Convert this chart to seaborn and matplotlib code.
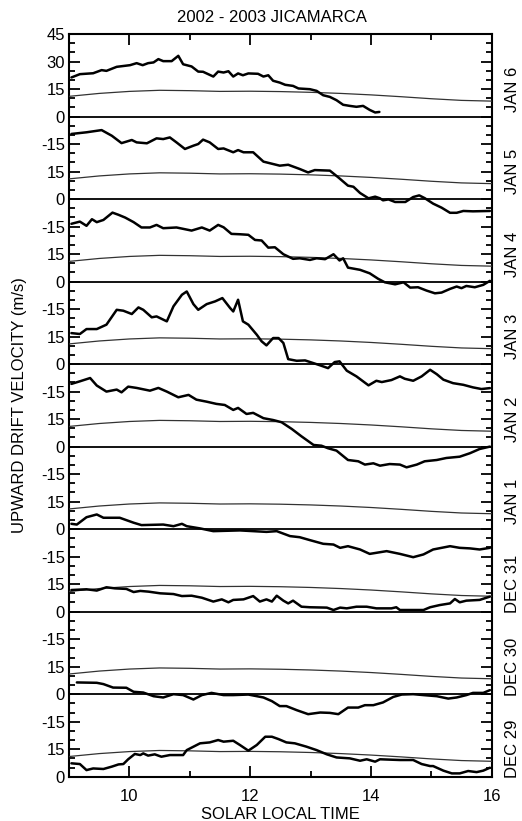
import numpy as np
import pandas as pd
import matplotlib
matplotlib.use("Agg")
import matplotlib.pyplot as plt
import matplotlib.transforms as mtransforms
from matplotlib.ticker import MultipleLocator, FixedLocator
import seaborn as sns

# Day labels, top to bottom
days = ["JAN 6", "JAN 5", "JAN 4", "JAN 3", "JAN 2", "JAN 1", "DEC 31", "DEC 30", "DEC 29"]

# Measured upward drifts (solar local time in hours, velocity in m/s)
jan6_t = [9.04, 9.18, 9.40, 9.54, 9.62, 9.79, 10.01, 10.12, 10.22, 10.31, 10.40, 10.48, 10.56, 10.70,
          10.81, 10.89, 11.03, 11.14, 11.22, 11.39, 11.47, 11.56, 11.64, 11.72, 11.80, 11.88, 11.97,
          12.13, 12.22, 12.30, 12.38, 12.49, 12.58, 12.71, 12.80, 12.99, 13.10, 13.21, 13.32, 13.43,
          13.54, 13.65, 13.76, 13.87, 13.98, 14.07, 14.14]
jan6_v = [21.3, 23.1, 23.6, 25.3, 24.9, 27.1, 28.0, 29.1, 28.0, 29.1, 29.5, 31.3, 30.2, 30.2,
          33.1, 28.5, 27.3, 24.5, 24.4, 21.8, 24.5, 24.0, 24.7, 21.8, 23.5, 22.5, 23.5,
          23.3, 21.8, 22.5, 19.5, 18.5, 17.3, 16.7, 15.3, 14.9, 14.0, 11.6, 10.7, 8.9,
          6.4, 5.8, 5.3, 5.8, 3.6, 2.2, 2.5]

jan5_t = [9.04, 9.29, 9.54, 9.71, 9.87, 10.04, 10.12, 10.29, 10.45, 10.56, 10.67, 10.78, 10.92,
          11.06, 11.14, 11.22, 11.33, 11.47, 11.56, 11.72, 11.80, 11.89, 12.05, 12.22, 12.38,
          12.49, 12.63, 12.82, 12.96, 13.07, 13.32, 13.46, 13.62, 13.71, 13.82, 13.96, 14.07,
          14.15, 14.20, 14.29, 14.40, 14.57, 14.70, 14.80, 14.89, 15.03, 15.17, 15.31, 15.42,
          15.53, 15.69, 15.97]
jan5_v = [35.5, 36.4, 37.6, 34.5, 30.5, 32.2, 30.9, 30.4, 33.1, 32.7, 33.6, 30.9, 27.3,
          29.1, 30.0, 32.4, 30.9, 27.3, 27.6, 25.5, 26.7, 25.5, 25.5, 20.4, 19.1,
          18.2, 18.7, 16.4, 14.5, 15.8, 15.5, 11.8, 7.3, 6.7, 3.3, 0.4, 1.3,
          0.4, -0.7, -0.2, -1.6, -1.6, 1.1, 2.0, 0.5, -2.5, -4.7, -7.5, -7.5,
          -6.5, -6.7, -6.5]

jan4_t = [9.04, 9.18, 9.29, 9.38, 9.46, 9.57, 9.72, 9.82, 9.93, 10.07, 10.20, 10.34, 10.45, 10.56,
          10.78, 11.03, 11.20, 11.33, 11.47, 11.56, 11.69, 11.83, 11.97, 12.08, 12.19, 12.30,
          12.41, 12.55, 12.71, 12.82, 12.99, 13.10, 13.24, 13.38, 13.48, 13.54, 13.62, 13.82,
          13.98, 14.12, 14.23, 14.40, 14.54, 14.65, 14.78, 14.92, 15.06, 15.17, 15.31, 15.42,
          15.50, 15.58, 15.72, 15.86, 15.97]
jan4_v = [31.5, 32.7, 30.4, 34.0, 32.4, 33.6, 37.6, 36.4, 34.9, 32.4, 29.5, 29.5, 30.9, 29.1,
          29.5, 27.8, 29.5, 27.8, 30.9, 29.6, 26.0, 25.8, 25.5, 22.7, 22.4, 18.5,
          18.7, 14.9, 12.4, 12.7, 11.8, 12.7, 12.2, 14.9, 11.5, 12.7, 7.6, 6.4,
          4.5, 1.5, -0.4, -1.5, -0.4, -3.3, -3.1, -4.9, -6.4, -6.0, -4.0, -2.7,
          -3.6, -2.4, -3.1, -1.8, 0.4]

jan3_t = [9.04, 9.18, 9.29, 9.46, 9.62, 9.79, 9.90, 10.04, 10.15, 10.23, 10.37, 10.45, 10.62,
          10.73, 10.87, 10.95, 11.06, 11.14, 11.28, 11.42, 11.54, 11.67, 11.72, 11.80, 11.88,
          11.97, 12.11, 12.19, 12.27, 12.38, 12.47, 12.55, 12.63, 12.77, 12.91, 13.05, 13.16,
          13.29, 13.40, 13.48, 13.60, 13.76, 13.96, 14.09, 14.18, 14.34, 14.48, 14.56, 14.70,
          14.84, 14.98, 15.09, 15.20, 15.36, 15.53, 15.69, 15.83, 15.97]
jan3_v = [16.9, 16.4, 19.1, 19.1, 21.5, 29.6, 29.1, 27.3, 30.9, 29.6, 25.5, 26.0, 23.3,
          31.5, 37.8, 39.6, 32.7, 29.6, 32.7, 34.2, 36.0, 30.5, 28.7, 35.1, 23.3,
          21.5, 16.0, 12.4, 10.2, 14.2, 14.2, 11.5, 2.7, 1.8, 2.0, 0.5, -0.7,
          -2.2, 1.1, 1.5, -3.6, -6.7, -11.6, -9.1, -9.8, -8.7, -6.7, -8.0, -9.1,
          -6.7, -3.1, -5.5, -8.5, -10.4, -11.3, -12.7, -13.6, -13.1]

jan2_t = [9.04, 9.18, 9.35, 9.46, 9.62, 9.79, 9.87, 9.98, 10.12, 10.34, 10.48, 10.62, 10.81,
          10.98, 11.11, 11.28, 11.44, 11.58, 11.72, 11.80, 11.94, 12.05, 12.22, 12.38, 12.52,
          12.69, 12.85, 13.05, 13.18, 13.29, 13.43, 13.62, 13.79, 13.90, 14.04, 14.15, 14.31,
          14.48, 14.59, 14.76, 14.89, 15.09, 15.25, 15.47, 15.64, 15.80, 15.97]
jan2_v = [34.2, 35.6, 37.4, 33.3, 30.0, 31.1, 29.6, 32.7, 32.0, 30.5, 32.0, 30.0, 26.9,
          28.2, 25.6, 24.5, 23.3, 22.7, 20.0, 21.1, 17.8, 18.4, 15.5, 14.5, 13.3,
          9.6, 5.6, 0.9, 0.5, -0.9, -2.2, -7.3, -8.0, -9.8, -9.1, -10.4, -9.5,
          -9.8, -11.3, -9.8, -8.0, -7.3, -6.2, -5.5, -3.6, -1.3, 0.0]

jan1_t = [9.04, 9.13, 9.29, 9.46, 9.57, 9.84, 10.07, 10.20, 10.56, 10.73, 10.87, 10.95, 11.17,
          11.39, 11.83, 12.27, 12.44, 12.66, 12.82, 12.99, 13.21, 13.38, 13.49, 13.62, 13.82,
          13.98, 14.26, 14.48, 14.70, 14.87, 15.03, 15.31, 15.47, 15.64, 15.80, 15.97]
jan1_v = [2.9, 2.5, 6.5, 8.0, 6.2, 6.2, 3.5, 2.2, 2.5, 1.6, 2.9, 1.6, 0.4,
          -1.1, -0.7, -1.5, -1.1, -3.8, -4.4, -6.0, -8.0, -8.4, -10.2, -9.3, -11.1,
          -13.5, -12.0, -13.5, -15.3, -13.8, -11.1, -9.3, -10.2, -10.5, -11.1, -10.2]

dec31_t = [9.04, 9.29, 9.46, 9.62, 9.76, 9.95, 10.07, 10.18, 10.32, 10.51, 10.73, 10.87, 11.03,
           11.20, 11.39, 11.53, 11.64, 11.72, 11.89, 12.05, 12.16, 12.27, 12.36, 12.44, 12.55,
           12.63, 12.71, 12.85, 12.99, 13.27, 13.38, 13.49, 13.60, 13.76, 13.93, 14.09, 14.34,
           14.42, 14.48, 14.87, 14.98, 15.14, 15.31, 15.39, 15.47, 15.58, 15.80, 15.97]
dec31_v = [11.8, 12.2, 11.5, 13.3, 12.7, 12.4, 10.7, 11.3, 10.9, 10.0, 9.6, 8.5, 8.7,
           7.6, 5.5, 6.7, 5.1, 6.4, 6.7, 8.5, 5.5, 6.7, 5.5, 8.7, 6.0,
           4.5, 6.0, 2.7, 2.4, 2.2, 0.9, 2.2, 1.8, 2.7, 2.7, 1.8, 1.8,
           2.4, 0.9, 0.9, 2.4, 3.6, 4.5, 6.9, 5.1, 6.0, 6.4, 8.2]

dec30_t = [9.13, 9.46, 9.57, 9.73, 9.95, 10.07, 10.23, 10.40, 10.56, 10.73, 10.89, 11.06, 11.20,
           11.36, 11.56, 11.72, 11.97, 12.22, 12.36, 12.49, 12.60, 12.77, 12.96, 13.16, 13.32,
           13.46, 13.62, 13.79, 13.90, 14.04, 14.20, 14.37, 14.51, 14.70, 14.87, 15.09, 15.28,
           15.42, 15.58, 15.69, 15.86, 15.97]
dec30_v = [6.4, 6.2, 5.5, 3.6, 3.5, 1.3, 0.9, -1.1, -1.8, 0.0, -0.5, -2.9, -0.5,
           0.7, -0.5, -0.5, -0.2, -1.8, -3.8, -6.5, -6.5, -8.7, -10.9, -10.0, -10.2,
           -10.9, -7.3, -7.3, -6.0, -6.0, -4.5, -1.5, -0.2, 0.0, -0.5, -1.1, -2.4,
           -1.8, -0.5, 0.7, 0.7, 2.2]

dec29_t = [9.04, 9.18, 9.29, 9.40, 9.57, 9.71, 9.82, 9.90, 9.98, 10.09, 10.18, 10.23, 10.31,
           10.42, 10.53, 10.67, 10.89, 10.95, 11.17, 11.33, 11.47, 11.56, 11.72, 11.83, 11.97,
           12.11, 12.25, 12.36, 12.47, 12.60, 12.74, 12.93, 13.10, 13.27, 13.43, 13.65, 13.82,
           13.93, 14.07, 14.15, 14.48, 14.70, 14.84, 14.98, 15.03, 15.20, 15.34, 15.47, 15.61,
           15.75, 15.86, 15.97]
dec29_v = [7.3, 6.9, 3.6, 4.5, 4.2, 5.5, 6.7, 6.9, 9.5, 12.4, 11.8, 12.7, 11.5,
           12.2, 10.9, 11.8, 11.8, 14.5, 18.2, 18.7, 20.0, 19.1, 19.6, 17.3, 14.2,
           17.3, 21.8, 21.8, 20.5, 18.7, 18.2, 16.4, 14.5, 12.2, 10.5, 10.0, 8.7,
           9.5, 8.2, 9.5, 9.1, 9.1, 6.9, 5.8, 5.8, 3.3, 1.8, 1.8, 3.1,
           2.5, 3.3, 4.9]

# Climatological drift curve, drawn in every panel
model_t = [9.0, 9.5, 10.0, 10.5, 11.0, 11.5, 12.0, 12.5, 13.0, 13.5, 14.0, 14.5, 15.0, 15.5, 16.0]
model_v = [11.0, 12.6, 13.7, 14.3, 14.1, 13.7, 13.8, 13.6, 13.2, 12.6, 11.8, 10.8, 9.7, 8.8, 8.4]

series_t = [jan6_t, jan5_t, jan4_t, jan3_t, jan2_t, jan1_t, dec31_t, dec30_t, dec29_t]
series_v = [jan6_v, jan5_v, jan4_v, jan3_v, jan2_v, jan1_v, dec31_v, dec30_v, dec29_v]

panel_step = 45.0
n = len(days)

sns.set_style("ticks")
plt.rcParams["font.family"] = ["Liberation Sans", "DejaVu Sans"]
plt.rcParams["font.size"] = 12
plt.rcParams["text.color"] = "black"
plt.rcParams["axes.labelcolor"] = "black"
plt.rcParams["xtick.color"] = "black"
plt.rcParams["ytick.color"] = "black"

fig = plt.figure(figsize=(5.22, 8.21), dpi=100)
ax = fig.add_axes([69 / 522, 1 - 776.7 / 821, (491.7 - 69) / 522, (776.7 - 34) / 821])

frames = []
for i, (name, t, v) in enumerate(zip(days, series_t, series_v)):
    off = (n - 1 - i) * panel_step
    frames.append(pd.DataFrame({"time": t, "drift": np.asarray(v) + off, "day": name, "kind": "obs"}))
    frames.append(pd.DataFrame({"time": model_t, "drift": np.asarray(model_v) + off,
                                "day": name, "kind": "model"}))
df = pd.concat(frames, ignore_index=True)

# Baselines for each day
for i in range(n):
    off = (n - 1 - i) * panel_step
    ax.axhline(off, color="black", lw=1.3, zorder=2)

for name in days:
    sub = df[(df.day == name) & (df.kind == "model")]
    sns.lineplot(data=sub, x="time", y="drift", ax=ax, color="#333333", lw=0.9,
                 estimator=None, sort=False, legend=False, zorder=3)
    sub = df[(df.day == name) & (df.kind == "obs")]
    sns.lineplot(data=sub, x="time", y="drift", ax=ax, color="black", lw=1.8,
                 estimator=None, sort=False, legend=False, zorder=4)

ax.set_xlim(9, 16)
ax.set_ylim(0, n * panel_step)

# Tick labels restart at each baseline
yt = np.arange(0, n * panel_step + 1, 15)
labels = []
for y in yt:
    r = int(round(y % panel_step))
    if y > (n - 1) * panel_step:
        labels.append(str(int(round(y - (n - 1) * panel_step))))
    else:
        labels.append({0: "0", 15: "15", 30: "-15"}[r])
ax.yaxis.set_major_locator(FixedLocator(yt))
ax.set_yticklabels(labels)
ax.yaxis.set_minor_locator(MultipleLocator(5))
ax.xaxis.set_major_locator(FixedLocator([10, 12, 14, 16]))
ax.xaxis.set_minor_locator(FixedLocator([9, 11, 13, 15]))
ax.tick_params(axis="both", which="both", direction="in", top=True, right=True,
               color="black", labelcolor="black", width=1.3)
ax.tick_params(axis="both", which="major", length=8, labelsize=12, pad=3)
ax.tick_params(axis="x", which="major", pad=9)
ax.tick_params(axis="both", which="minor", length=4)
for s in ax.spines.values():
    s.set_linewidth(1.5)
    s.set_color("black")

ax.set_xlabel("SOLAR LOCAL TIME", fontsize=12, labelpad=2, color="black")
ax.set_ylabel("UPWARD DRIFT VELOCITY (m/s)", fontsize=12, labelpad=10, color="black")
ax.set_title("2002 - 2003 JICAMARCA", fontsize=12, pad=9, x=0.48, color="black")

trans = mtransforms.blended_transform_factory(ax.transAxes, ax.transData)
for i, name in enumerate(days):
    off = (n - 1 - i) * panel_step
    ax.text(1.05, off + 15, name, rotation=90, ha="center", va="center",
            fontsize=12, color="black", transform=trans, clip_on=False)

fig.savefig("out.png", dpi=100)
